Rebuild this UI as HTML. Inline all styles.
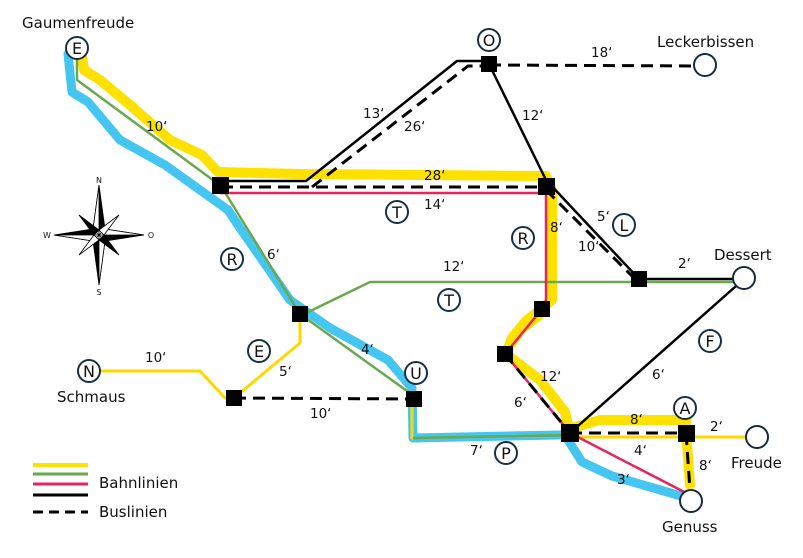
<!DOCTYPE html>
<html><head><style>body{margin:0;background:#fff}svg{display:block}text{font-family:"DejaVu Sans","Liberation Sans",sans-serif;fill:#111}</style></head><body>
<svg width="803" height="558" viewBox="0 0 803 558" xmlns="http://www.w3.org/2000/svg">
<g fill="none" stroke-linejoin="round" stroke-linecap="round">
<path d="M68,54 L72,92 L88,102 L120,140 L165,165 L200,190 L228,210 L240,228 L290,300 L330,328 L388,360 L412,388 L413,438 L560,435" stroke="#45c6f0" stroke-width="9"/>
<path d="M568,440 L582,462 L612,476 L688,498" stroke="#45c6f0" stroke-width="9"/>
<path d="M82,55 L84,70 L100,80 L130,105 L170,140 L202,155 L218,172 L300,174 L546,176 L552,190 L552,300 L525,322 L512,338 L506,354 L540,380 L565,412 L570,433" stroke="#ffe100" stroke-width="10"/>
<path d="M572,428 L600,420 L686,420 L686,430 L690,485" stroke="#ffe100" stroke-width="10"/>
<path d="M505,354 L522,330 L540,316" stroke="#ffe100" stroke-width="8"/>
<path d="M100,371 L200,371 L225,398 M234,398 L300,343 L300,316 M412,399 L412,438 M570,437 L745,437" stroke="#ffd800" stroke-width="3"/>
<path d="M77,60 L77,80 L221,186 L300,314 L414,396 M300,316 L370,282 L744,282 M414,438 L570,435" stroke="#6aa84f" stroke-width="2.5"/>
<path d="M221,193 L546,193 M546,186 L546,300 L542,309 L505,354 L570,433 L690,495" stroke="#e8245f" stroke-width="2.5"/>
<path d="M221,181 L306,181 L457,61 L489,61 M489,64 L546,180 L639,279 L744,279 M570,433 L744,279" stroke="#000" stroke-width="2.5"/>
<g stroke="#000" stroke-width="3" stroke-dasharray="12,7" stroke-linecap="butt">
<path d="M221,187 L546,187"/>
<path d="M312,187 L468,66 L489,66"/>
<path d="M489,65 L700,66"/>
<path d="M546,190 L639,283"/>
<path d="M234,398 L414,399"/>
<path d="M505,354 L570,433"/>
<path d="M570,433 L686,433"/>
<path d="M686,433 L690,490"/>
</g>
</g>
<g fill="#000">
<rect x="212" y="177" width="17" height="17"/><rect x="481" y="56" width="16" height="16"/><rect x="538" y="178" width="17" height="17"/>
<rect x="631" y="271" width="16" height="16"/><rect x="292" y="306" width="16" height="16"/><rect x="226" y="390" width="16" height="16"/>
<rect x="406" y="391" width="16" height="16"/><rect x="534" y="301" width="16" height="16"/><rect x="497" y="346" width="16" height="16"/>
<rect x="561" y="424" width="18" height="18"/><rect x="678" y="425" width="17" height="17"/>
</g>
<g fill="#fff" stroke="#1a2a3a" stroke-width="2">
<circle cx="705" cy="65" r="11"/><circle cx="744" cy="278" r="11"/><circle cx="757" cy="437" r="11"/><circle cx="691" cy="501" r="11"/>
</g>
<g fill="#fff" stroke="#1a3040" stroke-width="2">
<circle cx="77" cy="48" r="11"/><circle cx="489" cy="40" r="11"/><circle cx="89" cy="371" r="11"/><circle cx="416" cy="373" r="11"/>
<circle cx="232" cy="259" r="11"/><circle cx="397" cy="212" r="11"/><circle cx="523" cy="238" r="11"/><circle cx="624" cy="225" r="11"/>
<circle cx="449" cy="300" r="11"/><circle cx="259" cy="351" r="11"/><circle cx="710" cy="341" r="11"/><circle cx="506" cy="453" r="11"/><circle cx="685" cy="408" r="11"/>
</g>
<g text-anchor="middle" font-size="16">
<text x="77" y="54">E</text><text x="489" y="46">O</text><text x="89" y="377">N</text><text x="416" y="379">U</text>
<text x="232" y="265">R</text><text x="397" y="218">T</text><text x="523" y="244">R</text><text x="624" y="231">L</text>
<text x="449" y="306">T</text><text x="259" y="357">E</text><text x="710" y="347">F</text><text x="506" y="459">P</text><text x="685" y="414">A</text>
</g>
<g font-size="15">
<text x="22" y="28">Gaumenfreude</text><text x="657" y="47">Leckerbissen</text><text x="714" y="260">Dessert</text>
<text x="57" y="402">Schmaus</text><text x="731" y="468">Freude</text><text x="662" y="532">Genuss</text>
<text x="99" y="488">Bahnlinien</text><text x="99" y="517">Buslinien</text>
</g>
<g font-size="13.5">
<text x="146" y="131">10‘</text><text x="363" y="118">13‘</text><text x="404" y="131">26‘</text><text x="522" y="120">12‘</text>
<text x="591" y="57">18‘</text><text x="424" y="180">28‘</text><text x="424" y="209">14‘</text><text x="550" y="232">8‘</text>
<text x="597" y="221">5‘</text><text x="578" y="251">10‘</text><text x="678" y="268">2‘</text><text x="443" y="271">12‘</text>
<text x="267" y="259">6‘</text><text x="361" y="354">4‘</text><text x="279" y="376">5‘</text><text x="145" y="362">10‘</text>
<text x="310" y="418">10‘</text><text x="540" y="381">12‘</text><text x="514" y="407">6‘</text><text x="652" y="379">6‘</text>
<text x="630" y="424">8‘</text><text x="710" y="431">2‘</text><text x="634" y="455">4‘</text><text x="699" y="470">8‘</text>
<text x="470" y="455">7‘</text><text x="617" y="484">3‘</text>
</g>
<g stroke-width="3">
<line x1="33" y1="465" x2="88" y2="465" stroke="#ffe100" stroke-width="4"/>
<line x1="33" y1="474" x2="88" y2="474" stroke="#6aa84f"/>
<line x1="33" y1="484" x2="88" y2="484" stroke="#e8245f"/>
<line x1="33" y1="495" x2="88" y2="495" stroke="#000"/>
<line x1="33" y1="512" x2="88" y2="512" stroke="#000" stroke-dasharray="10,6"/>
</g>
<g transform="translate(99,235)" stroke="#000" stroke-width="0.8">
<polygon points="0,-50 6,-6 -6,-6" fill="#000"/><polygon points="0,50 6,6 -6,6" fill="#000"/>
<polygon points="-45,0 -6,-6 -6,6" fill="#000"/><polygon points="45,0 6,6 6,-6" fill="#000"/>
<polygon points="0,-50 -6,-6 0,0" fill="#fff"/><polygon points="0,50 6,6 0,0" fill="#fff"/>
<polygon points="-45,0 -6,6 0,0" fill="#fff"/><polygon points="45,0 6,-6 0,0" fill="#fff"/>
<polygon points="-20,-20 0,-5 -5,0" fill="#000"/><polygon points="20,20 0,5 5,0" fill="#000"/>
<polygon points="20,-20 5,0 0,-5" fill="#fff"/><polygon points="-20,20 -5,0 0,5" fill="#fff"/>
<g stroke="none" font-size="8" style="font-family:'Liberation Serif',serif" text-anchor="middle">
<text x="0" y="-52">N</text><text x="0" y="60">S</text><text x="-52" y="3">W</text><text x="52" y="3">O</text></g>
</g>
</svg>
</body></html>
